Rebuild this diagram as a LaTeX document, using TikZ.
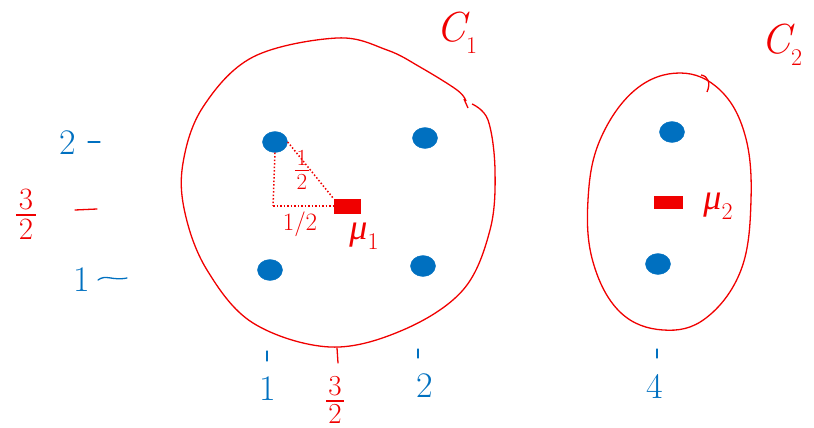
\documentclass[tikz,border=0pt]{standalone}
\usepackage{fontspec}
\newfontfamily\grk{Liberation Serif}
\usetikzlibrary{calc,shapes.geometric}
\definecolor{pblue}{RGB}{0,112,192}
\definecolor{pred}{RGB}{240,0,0}
\newcommand\sbs[1]{\raisebox{-0.28em}{\fontsize{24}{26}\selectfont\upshape #1}}
\newcommand\hfr[2]{\shortstack{#1\\[0.05em]\rule{0.62em}{0.06em}\\#2}}
\begin{document}
\begin{tikzpicture}[x=1pt,y=-1pt,
  dot/.style={ellipse,fill=pblue,draw=pblue,minimum width=25pt,minimum height=21pt,inner sep=0pt},
  mean/.style={rectangle,fill=pred,minimum width=27pt,minimum height=15pt,inner sep=0pt},
  blab/.style={text=pblue,font=\fontsize{36}{38}\selectfont,inner sep=0pt},
  rlab/.style={text=pred,font=\fontsize{36}{38}\selectfont,inner sep=0pt},
  clus/.style={draw=pred,line width=1.3pt},
  tick/.style={line width=1.3pt,line cap=round},
  guide/.style={draw=pred,line width=1.5pt,dotted}]
\useasboundingbox (0,0) rectangle (814,428);
% cluster boundaries
\draw[clus] plot[smooth,tension=0.6] coordinates{(466,101) (457,90) (420,67) (387,50) (337,38) (253,57) (203,107) (183,163) (185,213) (207,270) (253,323) (330,347) (403,330) (463,290) (490,230) (495,170) (488,120) (472,104)};
\draw[clus] (464,99) -- (468,108);
\draw[clus] plot[smooth cycle,tension=0.65] coordinates{(680,73) (720,90) (745,135) (751,200) (741,270) (706,318) (663,330) (620,312) (593,262) (588,200) (600,140) (635,90)};
\draw[clus] (701,75) .. controls (708,76) and (711,83) .. (707,92);
% labels C1, C2
\node[rlab,font=\fontsize{42}{44}\selectfont] (c1) at (457,33) {\itshape C\sbs{1}};
\node[rlab,font=\fontsize{42}{44}\selectfont] (c2) at (782,45) {\itshape C\sbs{2}};
% points
\node[dot] (p1) at (275,142) {};
\node[dot] (p2) at (425,138) {};
\node[dot] (p3) at (270,270) {};
\node[dot] (p4) at (423,266) {};
\node[dot] (p5) at (672,132) {};
\node[dot] (p6) at (658,264) {};
% means
\node[mean] (m1) at (347,206) {};
\node[mean,minimum width=29pt,minimum height=13pt] (m2) at (668,202) {};
\node[rlab] (mu1) at (364,236) {{\grk\itshape μ}\sbs{1}};
\node[rlab] (mu2) at (718,206) {{\grk\itshape μ}\sbs{2}};
% distance guides
\coordinate (corner) at (273,206);
\draw[guide] (p1.east) -- (m1.north west);
\draw[guide] (p1.south) -- (corner);
\draw[guide] (corner) -- (m1.west);
\node[rlab,font=\fontsize{23}{25}\selectfont] (h1) at (302,170) {\hfr{1}{2}};
\node[rlab,font=\fontsize{25}{27}\selectfont] (h2) at (300,224) {1/2};
% y axis labels
\node[blab] (y2) at (68,143) {2};
\draw[pblue,tick] (88,142) -- (100,142);
\node[rlab,font=\fontsize{31}{33}\selectfont] (y32) at (26,214) {\hfr{3}{2}};
\draw[pred,tick] (75,210) -- (97,209);
\node[blab] (y1) at (82,280) {1};
\draw[pblue,tick] (98,280) .. controls (106,274) and (112,281) .. (127,278);
% x axis ticks and labels
\draw[pblue,tick] (267,351) -- (267,361);
\draw[pred,tick] (337,348) -- (338,363);
\draw[pblue,tick] (418,349) -- (418,358);
\draw[pblue,tick] (657,349) -- (657,358);
\node[blab] (x1) at (268,389) {1};
\node[rlab,font=\fontsize{29}{31}\selectfont] (x32) at (335,400) {\hfr{3}{2}};
\node[blab] (x2) at (425,386) {2};
\node[blab] (x4) at (655,386) {4};
\end{tikzpicture}
\end{document}
